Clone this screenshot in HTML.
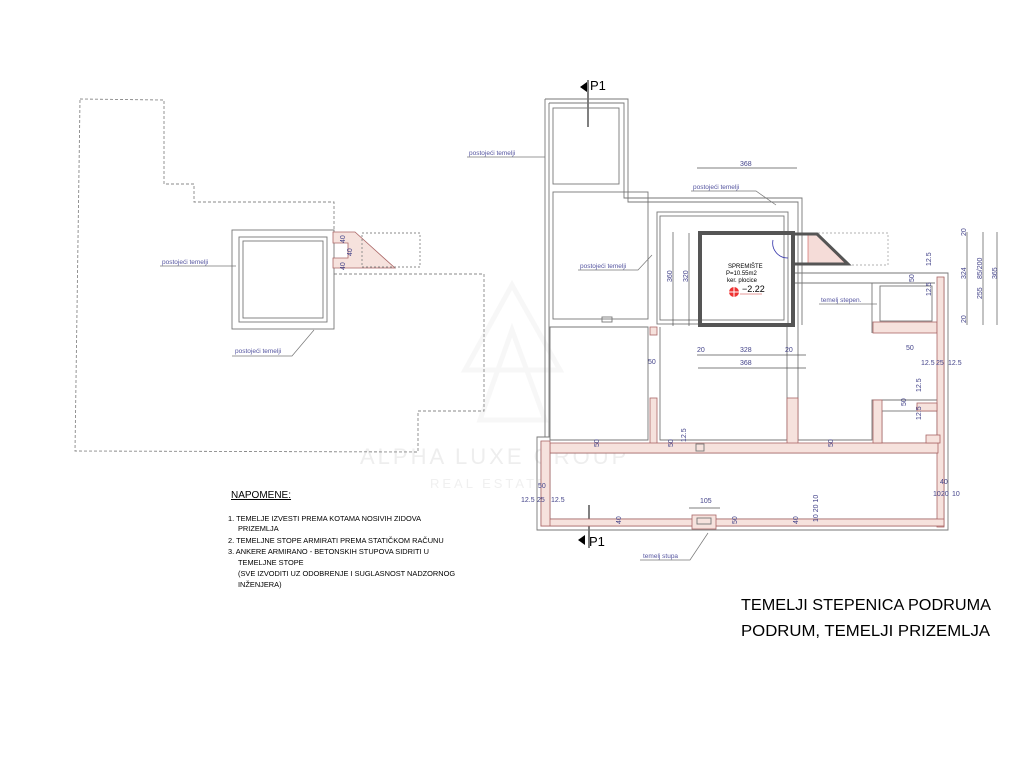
<!DOCTYPE html>
<html><head><meta charset="utf-8"><style>
html,body{margin:0;padding:0;background:#fff;}
svg{display:block;font-family:"Liberation Sans",sans-serif;}
.w{fill:none;stroke:#777;stroke-width:0.9}
.p{fill:#f6e2dd;stroke:#a66;stroke-width:0.8}
.d{fill:none;stroke:#888;stroke-width:0.9;stroke-dasharray:3,2}
.dim{fill:#44448a;font-size:7px}
.dl{stroke:#555;stroke-width:0.7}
.lbl{fill:#5555a0;font-size:6.5px}
.ll{stroke:#777;stroke-width:0.7;fill:none}
</style></head><body>
<svg width="1024" height="768" viewBox="0 0 1024 768" xmlns="http://www.w3.org/2000/svg">
<rect width="1024" height="768" fill="#fff"/>
<!-- watermark -->
<g opacity="0.06" stroke="#888" fill="none" stroke-width="5">
<path d="M512 285 L465 370 L560 370 Z"/><path d="M512 330 L480 420 L545 420 Z"/>
</g>
<text x="360" y="464" font-size="22" fill="#eee" letter-spacing="3">ALPHA LUXE GROUP</text>
<text x="430" y="488" font-size="13" fill="#f0f0f0" letter-spacing="3">REAL ESTATE</text>

<!-- LEFT DRAWING -->
<path class="d" d="M80 99 L164 100 L164 184 L194 184 L194 202 L334 202 L334 230 M334 274 L484 274 L484 411 L418 411 L418 452 L75 451 L80 99"/>
<rect class="w" x="232" y="230" width="102" height="99"/>
<rect class="w" x="239" y="237" width="88" height="85"/>
<rect class="w" x="243" y="241" width="80" height="77"/>
<path class="p" d="M333 232 L355 232 L395 268 L333 268 L333 258 L348 258 L348 243 L333 243 Z"/>
<rect class="d" x="362" y="233" width="58" height="34" style="stroke-dasharray:2,2"/>
<text class="dim" x="338" y="240" transform="rotate(-90 343 238)">40</text>
<text class="dim" x="345" y="253" transform="rotate(-90 350 251)">40</text>
<text class="dim" x="338" y="267" transform="rotate(-90 343 265)">40</text>
<text class="lbl" x="162" y="264">postojeći temelji</text><path class="ll" d="M160 266 L236 266"/>
<text class="lbl" x="235" y="353">postojeći temelji</text><path class="ll" d="M232 356 L292 356 L314 330"/>

<!-- MAIN PLAN -->
<path d="M587 82 L580 87 L587 92 Z" fill="#000"/><path d="M588 80 L588 127" stroke="#000" stroke-width="1"/>
<text x="590" y="90" font-size="13">P1</text>
<path d="M585 535 L578 540 L585 545 Z" fill="#000"/><path d="M589 505 L589 548" stroke="#000" stroke-width="1"/>
<text x="589" y="546" font-size="13">P1</text>

<path class="w" d="M545 99 L628 99 L628 202 L798 202 L798 325"/>
<path class="w" d="M545 99 L545 437"/>
<path class="w" d="M549 103 L624 103 L624 198 L802 198 L802 325"/>
<rect class="w" x="553" y="108" width="66" height="76"/>
<rect class="w" x="553" y="192" width="95" height="127"/>
<rect class="w" x="657" y="212" width="131" height="112"/>
<rect class="w" x="660" y="216" width="124" height="104"/>
<path class="w" d="M549 103 L549 437"/>
<rect class="w" x="602" y="317" width="10" height="5"/>
<path class="w" d="M550 327 L550 440 L648 440 L648 327 Z"/>
<path class="w" d="M660 327 L660 440 L787 440 L787 327"/>
<path class="w" d="M798 325 L798 440 L872 440 L872 400 L937 400"/>
<path class="w" d="M872 333 L872 283 L935 283"/>
<path class="w" d="M795 273 L948 273 L948 530 L537 530 L537 437 L550 437"/>
<path class="w" d="M795 283 L872 283"/>
<rect class="w" x="880" y="286" width="52" height="35"/>
<rect class="w" x="882" y="411" width="55" height="32"/>
<rect class="w" x="550" y="453" width="388" height="66"/>
<path class="w" d="M541 441 L541 526 L944 526 L944 277"/>
<rect class="p" x="650" y="327" width="7" height="8"/>
<rect class="p" x="650" y="398" width="7" height="47"/>
<rect class="p" x="787" y="398" width="11" height="52"/>
<rect class="p" x="873" y="322" width="64" height="11"/>
<rect class="p" x="937" y="277" width="7" height="250"/>
<rect class="p" x="550" y="443" width="388" height="10"/>
<rect class="p" x="541" y="519" width="403" height="7"/>
<rect class="p" x="541" y="441" width="9" height="85"/>
<rect class="p" x="873" y="400" width="9" height="43"/>
<rect class="p" x="917" y="403" width="20" height="8"/>
<rect class="p" x="926" y="435" width="14" height="8"/>
<rect class="p" x="692" y="515" width="24" height="14"/>
<rect class="w" x="697" y="518" width="14" height="6"/>
<rect class="w" x="696" y="444" width="8" height="7"/>
<!-- Spremiste -->
<path d="M700 233 L793 233 L793 325 L700 325 Z" fill="none" stroke="#555" stroke-width="4"/>
<rect x="818" y="233" width="70" height="32" fill="none" stroke="#999" stroke-width="0.7" stroke-dasharray="2,2"/>
<path d="M808 235 L817 235 L845 263 L808 263 Z" fill="#f5dcd8" stroke="#c55" stroke-width="0.6"/>
<path d="M793 234 L817 234 L848 264 L793 264" fill="none" stroke="#555" stroke-width="3"/>
<path d="M773 240 A15 15 0 0 0 788 258" fill="none" stroke="#33a" stroke-width="0.8"/>
<text x="728" y="268" font-size="6">SPREMIŠTE</text>
<text x="726" y="275" font-size="6">P=10.55m2</text>
<text x="727" y="282" font-size="6">ker. plocice</text>
<circle cx="734" cy="292" r="5" fill="#e33"/><path d="M729 292 L739 292 M734 287 L734 297" stroke="#fff" stroke-width="1"/>
<text x="742" y="292" font-size="9">−2.22</text>
<path d="M740 294 L762 294" stroke="#c33" stroke-width="0.6"/>

<path class="dl" d="M697 168 L797 168"/><text class="dim" x="740" y="166">368</text>
<path class="dl" d="M673 232 L673 326 M689 233 L689 326"/>
<text class="dim" x="668" y="286" transform="rotate(-90 668 282)">360</text>
<text class="dim" x="684" y="286" transform="rotate(-90 684 282)">320</text>
<path class="dl" d="M697 355 L806 355 M698 368 L806 368"/>
<text class="dim" x="740" y="352">328</text><text class="dim" x="740" y="365">368</text>
<text class="dim" x="697" y="352">20</text><text class="dim" x="785" y="352">20</text>
<text class="dim" x="648" y="364">50</text>
<text class="dim" x="700" y="503">105</text><path class="dl" d="M689 508 L720 508"/>
<text class="dim" x="538" y="488">50</text><text class="dim" x="521" y="502">12.5</text><text class="dim" x="537" y="502">25</text><text class="dim" x="551" y="502">12.5</text>
<text class="dim" x="906" y="350">50</text><text class="dim" x="921" y="365">12.5</text><text class="dim" x="936" y="365">25</text><text class="dim" x="948" y="365">12.5</text>
<text class="dim" x="940" y="484">40</text><text class="dim" x="933" y="496">10</text><text class="dim" x="941" y="496">20</text><text class="dim" x="952" y="496">10</text>
<text class="dim" x="595" y="451" transform="rotate(-90 595 447)">50</text>
<text class="dim" x="829" y="451" transform="rotate(-90 829 447)">50</text>
<text class="dim" x="669" y="451" transform="rotate(-90 669 447)">50</text>
<text class="dim" x="682" y="446" transform="rotate(-90 682 442)">12.5</text>
<text class="dim" x="617" y="528" transform="rotate(-90 617 524)">40</text>
<text class="dim" x="733" y="528" transform="rotate(-90 733 524)">50</text>
<text class="dim" x="794" y="528" transform="rotate(-90 794 524)">40</text>
<text class="dim" x="810" y="530" transform="rotate(-90 810 522)">10 20 10</text>
<text class="dim" x="910" y="286" transform="rotate(-90 910 282)">50</text>
<text class="dim" x="927" y="270" transform="rotate(-90 927 266)">12.5</text>
<text class="dim" x="927" y="300" transform="rotate(-90 927 296)">12.5</text>
<text class="dim" x="902" y="410" transform="rotate(-90 902 406)">50</text>
<text class="dim" x="917" y="396" transform="rotate(-90 917 392)">12.5</text>
<text class="dim" x="917" y="424" transform="rotate(-90 917 420)">12.5</text>
<path class="dl" d="M967 232 L967 325 M983 232 L983 325 M997 232 L997 325"/>
<text class="dim" x="962" y="283" transform="rotate(-90 962 279)">324</text>
<text class="dim" x="978" y="283" transform="rotate(-90 978 279)">85/200</text>
<text class="dim" x="978" y="303" transform="rotate(-90 978 299)">255</text>
<text class="dim" x="993" y="283" transform="rotate(-90 993 279)">365</text>
<text class="dim" x="962" y="240" transform="rotate(-90 962 236)">20</text>
<text class="dim" x="962" y="327" transform="rotate(-90 962 323)">20</text>

<text class="lbl" x="469" y="155">postojeći temelji</text><path class="ll" d="M467 157 L545 157"/>
<text class="lbl" x="693" y="189">postojeći temelji</text><path class="ll" d="M691 191 L756 191 L776 205"/>
<text class="lbl" x="580" y="268">postojeći temelji</text><path class="ll" d="M578 270 L638 270 L652 255"/>
<text class="lbl" x="821" y="302">temelj stepen.</text><path class="ll" d="M819 304 L877 304"/>
<text class="lbl" x="643" y="558">temelj stupa</text><path class="ll" d="M640 560 L690 560 L708 533"/>

<text x="231" y="498" font-size="10" text-decoration="underline">NAPOMENE:</text>
<g font-size="7.4">
<text x="228" y="521">1. TEMELJE IZVESTI PREMA KOTAMA NOSIVIH ZIDOVA</text>
<text x="238" y="531">PRIZEMLJA</text>
<text x="228" y="543">2. TEMELJNE STOPE ARMIRATI PREMA STATIČKOM RAČUNU</text>
<text x="228" y="554">3. ANKERE ARMIRANO - BETONSKIH STUPOVA SIDRITI U</text>
<text x="238" y="565">TEMELJNE STOPE</text>
<text x="238" y="576">(SVE IZVODITI UZ ODOBRENJE I SUGLASNOST NADZORNOG</text>
<text x="238" y="587">INŽENJERA)</text>
</g>
<text x="741" y="610" font-size="16" textLength="250" lengthAdjust="spacingAndGlyphs">TEMELJI STEPENICA PODRUMA</text>
<text x="741" y="636" font-size="16" textLength="249" lengthAdjust="spacingAndGlyphs">PODRUM, TEMELJI PRIZEMLJA</text>
</svg>
</body></html>
